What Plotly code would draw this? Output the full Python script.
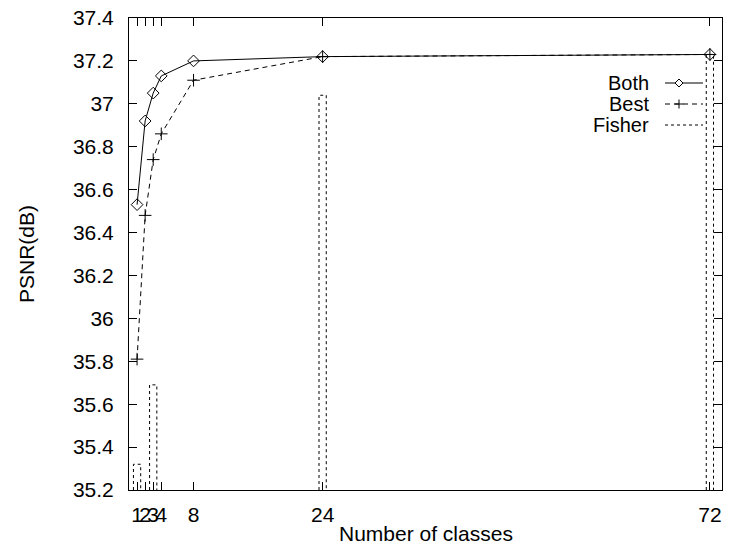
import plotly.graph_objects as go

classes = [1, 2, 3, 4, 8, 24, 72]
both = [36.53, 36.92, 37.05, 37.13, 37.20, 37.22, 37.23]
best = [35.81, 36.48, 36.74, 36.86, 37.11, 37.22, 37.23]
fisher_x = [1, 3, 24, 72]
fisher = [35.32, 35.69, 37.04, 37.23]
x_ticks = [1, 2, 3, 4, 8, 24, 72]
x_ticklabels = ["1", "2", "3", "4", "8", "24", "72"]
y_ticks = [35.2, 35.4, 35.6, 35.8, 36.0, 36.2, 36.4, 36.6, 36.8, 37.0, 37.2, 37.4]
y_ticklabels = ["35.2", "35.4", "35.6", "35.8", "36", "36.2", "36.4", "36.6", "36.8", "37", "37.2", "37.4"]

YMIN, YMAX = 35.2, 37.4
XMIN, XMAX = 0, 73.5
BOXW = 0.9

FONT = "Liberation Sans, Arial, Helvetica, sans-serif"
FS = 21

fig = go.Figure()

# Fisher boxes (gnuplot "with boxes" look), built from data
bx, by = [], []
for xv, v in zip(fisher_x, fisher):
    bx += [xv - BOXW / 2, xv - BOXW / 2, xv + BOXW / 2, xv + BOXW / 2, None]
    by += [YMIN, v, v, YMIN, None]
fig.add_trace(go.Scatter(x=bx, y=by, mode="lines", name="Fisher",
                         line=dict(color="black", width=1, dash="3px,3px"),
                         showlegend=False, hoverinfo="skip"))

fig.add_trace(go.Scatter(x=classes, y=best, mode="lines+markers", name="Best",
                         line=dict(color="black", width=1, dash="5px,4px"),
                         marker=dict(symbol="cross-thin-open", size=9,
                                     line=dict(color="black", width=1)),
                         showlegend=False))
fig.add_trace(go.Scatter(x=classes, y=both, mode="lines+markers", name="Both",
                         line=dict(color="black", width=1),
                         marker=dict(symbol="diamond-open", size=9, color="black",
                                     line=dict(color="black", width=1)),
                         showlegend=False))

# Manual gnuplot-style legend (text left, sample right)
L, R, T, B = 129, 722, 18, 490
def px(x):
    return (x - L) / (R - L)
def py(y):
    return (B - y) / (B - T)

legend = [("Both", 83, "solid", "diamond"), ("Best", 104, "5px,4px", "plus"), ("Fisher", 125, "3px,3px", None)]
shapes = []
annotations = []
for name, yy, dash, mk in legend:
    annotations.append(dict(x=px(651), y=py(yy), xref="paper", yref="paper",
                            text=name, showarrow=False, xanchor="right", yanchor="middle",
                            font=dict(family=FONT, size=FS - 1, color="black")))
    shapes.append(dict(type="line", xref="paper", yref="paper",
                       x0=px(665), x1=px(703), y0=py(yy), y1=py(yy),
                       line=dict(color="black", width=1, dash=dash)))
    if mk == "diamond":
        shapes.append(dict(type="path", xref="paper", yref="paper",
                           xsizemode="pixel", ysizemode="pixel",
                           xanchor=px(679), yanchor=py(yy),
                           path="M -4 0 L 0 4 L 4 0 L 0 -4 Z",
                           fillcolor="white", line=dict(color="black", width=1)))
    elif mk == "plus":
        shapes.append(dict(type="path", xref="paper", yref="paper",
                           xsizemode="pixel", ysizemode="pixel",
                           xanchor=px(679), yanchor=py(yy),
                           path="M -4.5 0 L 4.5 0 M 0 -4.5 L 0 4.5",
                           line=dict(color="black", width=1)))

# axis titles as annotations for exact placement
annotations.append(dict(x=0.5, y=py(533), xref="paper", yref="paper", text="Number of classes",
                        showarrow=False, xanchor="center", yanchor="middle",
                        font=dict(family=FONT, size=FS, color="black")))
annotations.append(dict(x=px(26), y=0.5, xref="paper", yref="paper", text="PSNR(dB)",
                        showarrow=False, xanchor="center", yanchor="middle", textangle=-90,
                        font=dict(family=FONT, size=FS, color="black")))

fig.update_layout(
    width=731, height=546,
    margin=dict(l=L, r=731 - R, t=T, b=546 - B, autoexpand=False),
    paper_bgcolor="white", plot_bgcolor="white",
    font=dict(family=FONT, size=FS, color="black"),
    shapes=shapes, annotations=annotations,
    xaxis=dict(range=[XMIN, XMAX], tickmode="array", tickvals=x_ticks, ticktext=x_ticklabels,
               ticks="inside", ticklen=8, tickcolor="black", showline=True, linecolor="black",
               linewidth=1, mirror="allticks", showgrid=False, zeroline=False,
               tickangle=0, automargin=False, ticklabelstandoff=6,
               tickfont=dict(family=FONT, size=FS)),
    yaxis=dict(range=[YMIN, YMAX], tickmode="array", tickvals=y_ticks, ticktext=y_ticklabels,
               ticks="inside", ticklen=8, tickcolor="black", showline=True, linecolor="black",
               linewidth=1, mirror="allticks", showgrid=False, zeroline=False,
               automargin=False, ticklabelstandoff=10,
               tickfont=dict(family=FONT, size=FS)),
)

fig.write_html(
    "out.html",
    config={"displayModeBar": False},
    post_script="document.body.style.margin='0';document.body.style.padding='0';"
                "document.documentElement.style.overflow='hidden';",
)
